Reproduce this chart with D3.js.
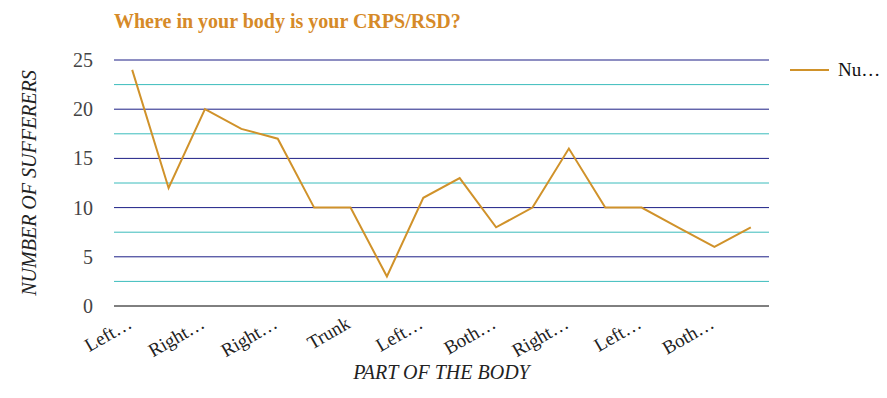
<!DOCTYPE html>
<html>
<head>
<meta charset="utf-8">
<script src="https://d3js.org/d3.v7.min.js"></script>
<style>
  body { margin: 0; background: #fff; }
  text { font-family: "Liberation Serif", "Times New Roman", serif; }
</style>
</head>
<body>
<div id="chart"></div>
<script>
// values
var tickLabels = ["Left…", "", "Right…", "", "Right…", "", "Trunk", "", "Left…", "",
                  "Both…", "", "Right…", "", "Left…", "", "Both…", ""];
var sufferers = [24, 12, 20, 18, 17, 10, 10, 3, 11, 13, 8, 10, 16, 10, 10, 8, 6, 8];
var majorTicks = [0, 5, 10, 15, 20, 25];
var minorTicks = [2.5, 7.5, 12.5, 17.5, 22.5];
var seriesName = "Nu…";

var W = 887, H = 398;
var margin = {top: 60, right: 118, bottom: 92, left: 114};
var width = W - margin.left - margin.right,
    height = H - margin.top - margin.bottom;

var svg = d3.select("#chart").append("svg")
    .attr("width", W).attr("height", H);

svg.append("text")
    .attr("x", 114).attr("y", 28)
    .attr("fill", "#d68a28")
    .attr("font-weight", "bold")
    .attr("font-size", "20px")
    .text("Where in your body is your CRPS/RSD?");

var g = svg.append("g")
    .attr("transform", "translate(" + margin.left + "," + margin.top + ")");

var x = d3.scaleBand()
    .domain(d3.range(sufferers.length))
    .range([0, width]);

var y = d3.scaleLinear()
    .domain([0, 25])
    .range([height, 0]);

// minor gridlines
g.selectAll(".minor")
    .data(minorTicks)
    .enter().append("line")
    .attr("x1", 0).attr("x2", width)
    .attr("y1", function(d) { return y(d); })
    .attr("y2", function(d) { return y(d); })
    .attr("stroke", "#3bbcbc").attr("stroke-width", 1);

// major gridlines
g.selectAll(".major")
    .data(majorTicks)
    .enter().append("line")
    .attr("x1", 0).attr("x2", width)
    .attr("y1", function(d) { return y(d); })
    .attr("y2", function(d) { return y(d); })
    .attr("stroke", function(d) { return d === 0 ? "#000" : "#1c1f86"; })
    .attr("stroke-width", 1);

// y axis labels
var yAxis = g.append("g")
    .call(d3.axisLeft(y).tickValues(majorTicks).tickSize(0).tickPadding(21));
yAxis.select(".domain").remove();
yAxis.selectAll("text")
    .attr("font-size", "20px")
    .attr("fill", "#444")
    .style("font-family", "'Liberation Serif', serif");

// x axis labels
var xAxis = g.append("g")
    .attr("transform", "translate(0," + height + ")")
    .call(d3.axisBottom(x).tickSize(0).tickFormat(function(i) { return tickLabels[i]; }));
xAxis.select(".domain").remove();
xAxis.selectAll("text")
    .attr("font-size", "19px")
    .attr("fill", "#222")
    .style("font-family", "'Liberation Serif', serif")
    .style("text-anchor", "end")
    .attr("x", 0).attr("y", 0).attr("dy", 0)
    .attr("transform", "translate(1,21) rotate(-30)");

// axis titles
svg.append("text")
    .attr("transform", "translate(36," + (margin.top + height / 2) + ") rotate(-90)")
    .attr("text-anchor", "middle")
    .attr("font-style", "italic")
    .attr("font-size", "20px")
    .attr("fill", "#222")
    .text("NUMBER OF SUFFERERS");

svg.append("text")
    .attr("x", margin.left + width / 2).attr("y", 379)
    .attr("text-anchor", "middle")
    .attr("font-style", "italic")
    .attr("font-size", "20px")
    .attr("fill", "#222")
    .text("PART OF THE BODY");

// line
var line = d3.line()
    .x(function(d, i) { return x(i) + x.bandwidth() / 2; })
    .y(function(d) { return y(d); });

g.append("path")
    .datum(sufferers)
    .attr("fill", "none")
    .attr("stroke", "#d0922a")
    .attr("stroke-width", 2)
    .attr("d", line);

// legend
svg.append("line")
    .attr("x1", 790).attr("x2", 829)
    .attr("y1", 70).attr("y2", 70)
    .attr("stroke", "#d0922a").attr("stroke-width", 2);
svg.append("text")
    .attr("x", 838).attr("y", 76)
    .attr("font-size", "19px")
    .attr("fill", "#111")
    .text(seriesName);
</script>
</body>
</html>
